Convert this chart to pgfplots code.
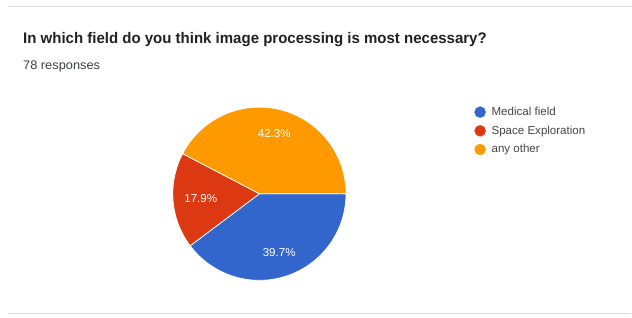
\documentclass[border=0pt]{standalone}
\usepackage{fontspec}
\setmainfont{Liberation Sans}
\usepackage{graphicx}
\usepackage{pgfplots}
\usepackage{pgfplotstable}
\pgfplotsset{compat=1.18}
\definecolor{cBlue}{HTML}{3366CC}
\definecolor{cRed}{HTML}{DC3912}
\definecolor{cOrange}{HTML}{FF9900}
\definecolor{cLine}{HTML}{DADCE0}
\definecolor{cTitle}{HTML}{202124}
\definecolor{cSub}{HTML}{3C4043}
\definecolor{cText}{HTML}{444444}
\newcommand\fitto[2]{\sbox0{#2}\pgfmathsetmacro\fitsc{#1/\the\wd0}\scalebox{\fitsc}[1]{\usebox0}}

\pgfplotstableread{
idx value
0 39.7
1 17.9
2 42.3
}\piedata

\begin{document}
\begin{tikzpicture}[x=1bp,y=1bp]
\pgfplotstablegetelem{0}{value}\of\piedata \pgfmathsetmacro\vA{\pgfplotsretval}
\pgfplotstablegetelem{1}{value}\of\piedata \pgfmathsetmacro\vB{\pgfplotsretval}
\pgfplotstablegetelem{2}{value}\of\piedata \pgfmathsetmacro\vC{\pgfplotsretval}
\pgfmathsetmacro\tot{\vA+\vB+\vC}
\pgfmathsetmacro\aA{-3.6*(\vA/\tot)*100}
\pgfmathsetmacro\aB{-3.6*((\vA+\vB)/\tot)*100}
\pgfmathsetmacro\aC{-360}
\pgfmathsetmacro\mA{\aA/2}
\pgfmathsetmacro\mB{(\aA+\aB)/2}
\pgfmathsetmacro\mC{(\aB+\aC)/2}

\fill[white] (0,0) rectangle (632,318);
\draw[cLine, line width=1.3bp] (8,311.5) -- (632,311.5);
\draw[cLine, line width=1.3bp] (8,4.5) -- (632,4.5);
\node[anchor=base west, inner sep=0pt, text=cTitle, font=\bfseries\fontsize{15.4}{18}\selectfont] at (23,274.7) {\fitto{464bp}{In which field do you think image processing is most necessary?}};
\node[anchor=base west, inner sep=0pt, text=cSub, font=\fontsize{12.5}{15}\selectfont] at (23,248) {\fitto{77bp}{78 responses}};

\begin{axis}[at={(299.5,143.1)}, anchor=center,
  x=86.7bp, y=86.7bp,
  xmin=-1.05, xmax=1.05, ymin=-1.05, ymax=1.05,
  hide axis, clip=false,
  legend style={at={(1.681,0.981)}, anchor=north west, draw=none, fill=none,
    font=\fontsize{11.6}{14}\selectfont, text=cText,
    column sep=5.8bp, row sep=7.3bp, inner sep=0pt,
    nodes={inner sep=0pt}},
  legend cell align=left]
\addplot[forget plot, fill=cBlue, draw=white, line width=0.75bp, domain=\aA:0, samples=90, variable=\t] ({cos(\t)},{sin(\t)}) -- (axis cs:0,0) -- cycle;
\addplot[forget plot, fill=cRed, draw=white, line width=0.75bp, domain=\aB:\aA, samples=60, variable=\t] ({cos(\t)},{sin(\t)}) -- (axis cs:0,0) -- cycle;
\addplot[forget plot, fill=cOrange, draw=white, line width=0.75bp, domain=\aC:\aB, samples=90, variable=\t] ({cos(\t)},{sin(\t)}) -- (axis cs:0,0) -- cycle;
\node[text=white, inner sep=0pt, font=\fontsize{11.6}{14}\selectfont] at (axis cs:{0.72*cos(\mA)},{0.72*sin(\mA)}) {39.7\%};
\node[text=white, inner sep=0pt, font=\fontsize{11.6}{14}\selectfont] at (axis cs:{0.68*cos(\mB)},{0.68*sin(\mB)}) {17.9\%};
\node[text=white, inner sep=0pt, font=\fontsize{11.6}{14}\selectfont] at (axis cs:{0.72*cos(\mC)},{0.72*sin(\mC)}) {42.3\%};
\addlegendimage{legend image code/.code={\fill[cBlue] (0bp,0bp) circle (5.5bp);}}
\addlegendentry{Medical field}
\addlegendimage{legend image code/.code={\fill[cRed] (0bp,0bp) circle (5.5bp);}}
\addlegendentry{Space Exploration}
\addlegendimage{legend image code/.code={\fill[cOrange] (0bp,0bp) circle (5.5bp);}}
\addlegendentry{any other}
\end{axis}
\end{tikzpicture}
\end{document}
